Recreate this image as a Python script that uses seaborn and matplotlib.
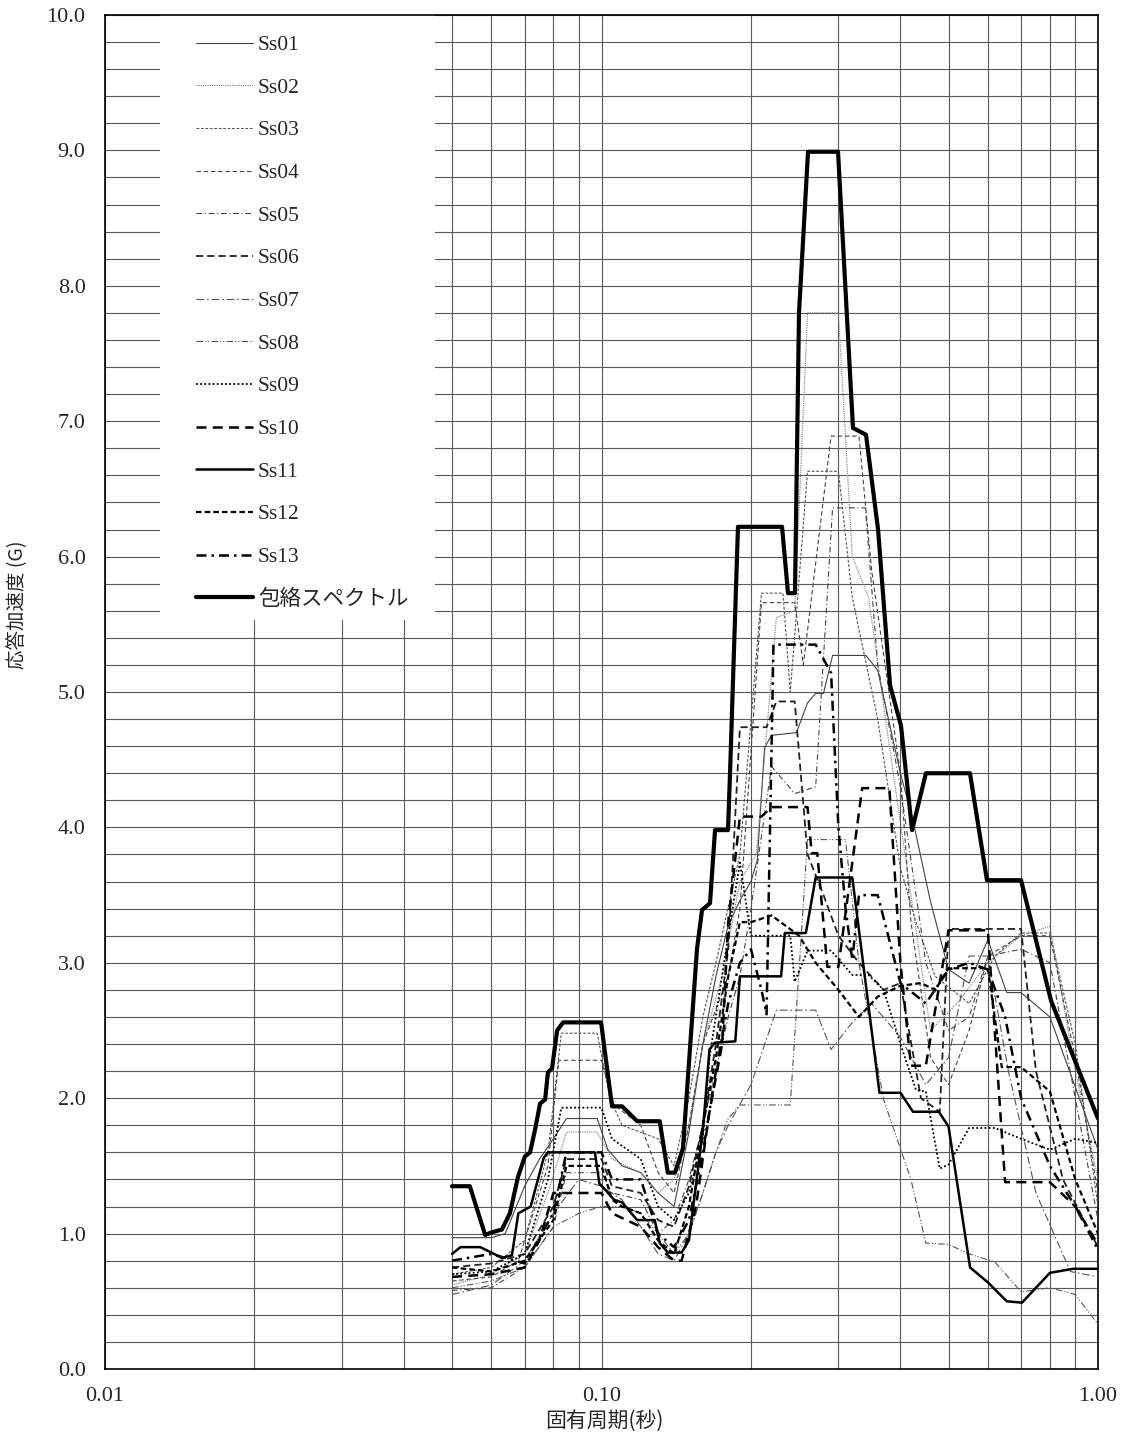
import numpy as np
import pandas as pd
import matplotlib
matplotlib.use("Agg")
import matplotlib.pyplot as plt
import seaborn as sns
from matplotlib.patches import Rectangle
from matplotlib.ticker import LogLocator, NullFormatter, FixedLocator

# ---------------- data (period [s], response acceleration [G]) ----------------
T01 = [0.05,0.06,0.064,0.07,0.075,0.08,0.085,0.098,0.103,0.11,0.12,0.13,0.14,0.15,0.16,0.17,0.18,0.19,0.20,0.206,0.213,0.22,0.247,0.26,0.27,0.28,0.292,0.341,0.36,0.40,0.424,0.46,0.50,0.55,0.60,0.655,0.70,0.80,1.0]
V01 = [0.97,0.97,1.00,1.35,1.55,1.70,1.85,1.85,1.62,1.50,1.45,1.30,1.20,1.75,2.40,2.90,3.28,3.46,3.60,3.76,4.59,4.68,4.70,4.92,4.99,4.99,5.27,5.27,5.16,4.40,4.05,3.45,2.95,2.85,3.17,2.78,2.78,2.60,1.62]

T02 = [0.05,0.06,0.07,0.078,0.085,0.098,0.105,0.12,0.13,0.14,0.15,0.16,0.175,0.19,0.205,0.225,0.245,0.26,0.30,0.32,0.345,0.38,0.42,0.46,0.52,0.6,0.7,0.8,0.9,1.0]
V02 = [0.62,0.70,0.85,1.30,1.75,1.75,1.55,1.45,1.30,1.40,1.80,2.40,2.90,3.60,3.80,5.55,5.60,7.80,7.80,6.00,5.70,4.60,3.50,2.50,2.70,3.00,3.20,3.27,2.20,1.40]

T03 = [0.05,0.06,0.07,0.078,0.083,0.098,0.104,0.11,0.13,0.14,0.15,0.16,0.17,0.19,0.21,0.232,0.24,0.26,0.30,0.32,0.36,0.40,0.43,0.47,0.55,0.62,0.70,0.80,0.90,1.0]
V03 = [0.70,0.75,0.95,1.60,2.48,2.48,2.00,1.80,1.70,1.50,2.00,2.60,3.00,3.80,5.73,5.73,5.00,6.63,6.63,5.70,4.80,3.70,3.30,2.90,2.70,3.05,3.22,3.22,2.40,1.20]

T04 = [0.05,0.06,0.068,0.078,0.082,0.10,0.106,0.12,0.13,0.14,0.15,0.16,0.18,0.19,0.21,0.245,0.255,0.29,0.33,0.35,0.40,0.42,0.46,0.50,0.55,0.6,0.7,0.8,0.9,1.0]
V04 = [0.65,0.68,0.80,1.50,2.28,2.28,1.95,1.80,1.45,1.30,1.80,2.40,2.90,3.40,5.66,5.66,5.20,6.89,6.89,5.90,4.40,3.30,2.30,2.10,2.50,3.05,3.20,3.20,2.30,1.30]

T05 = [0.05,0.06,0.07,0.08,0.085,0.10,0.105,0.12,0.13,0.14,0.15,0.16,0.18,0.19,0.20,0.22,0.245,0.27,0.292,0.34,0.36,0.40,0.45,0.50,0.55,0.60,0.70,0.80,0.90,1.0]
V05 = [0.58,0.60,0.75,1.05,1.45,1.45,1.30,1.25,1.00,1.10,1.40,1.80,2.60,2.90,3.40,4.45,4.25,4.30,6.36,6.36,5.20,4.30,3.00,2.50,2.60,3.05,3.10,3.00,2.00,1.10]

T06 = [0.05,0.06,0.07,0.08,0.085,0.10,0.105,0.12,0.13,0.14,0.15,0.16,0.17,0.18,0.19,0.215,0.225,0.245,0.26,0.28,0.30,0.33,0.37,0.40,0.44,0.48,0.50,0.60,0.70,0.75,0.85,1.0]
V06 = [0.75,0.78,0.85,1.20,1.55,1.55,1.35,1.30,1.10,1.05,1.35,1.80,2.40,3.10,4.74,4.74,4.93,4.93,3.80,3.50,3.20,3.00,2.80,2.85,2.00,1.90,3.25,3.25,3.25,2.20,1.40,0.90]

T07 = [0.05,0.06,0.07,0.08,0.09,0.10,0.11,0.12,0.13,0.14,0.15,0.16,0.17,0.18,0.20,0.225,0.27,0.29,0.32,0.35,0.40,0.45,0.50,0.55,0.60,0.66,0.75,0.88,1.0]
V07 = [0.55,0.62,0.80,1.15,1.40,1.35,1.25,1.05,0.85,0.80,1.00,1.30,1.60,1.80,2.10,2.65,2.65,2.36,2.56,2.70,2.45,2.10,2.30,3.05,3.05,2.20,1.30,0.72,0.68]

T08 = [0.05,0.06,0.07,0.08,0.09,0.10,0.11,0.12,0.13,0.14,0.15,0.16,0.17,0.18,0.19,0.24,0.26,0.31,0.33,0.37,0.42,0.45,0.50,0.55,0.62,0.70,0.80,0.90,1.0]
V08 = [0.60,0.65,0.75,1.05,1.15,1.20,1.20,1.15,1.00,0.85,1.00,1.30,1.60,1.85,1.95,1.95,3.91,3.91,3.00,1.99,1.40,0.93,0.92,0.85,0.79,0.57,0.60,0.55,0.33]

T09 = [0.05,0.06,0.07,0.078,0.083,0.10,0.105,0.12,0.13,0.14,0.15,0.16,0.165,0.18,0.19,0.20,0.24,0.245,0.26,0.29,0.32,0.345,0.37,0.40,0.43,0.45,0.48,0.50,0.55,0.62,0.70,0.80,0.90,1.0]
V09 = [0.70,0.72,0.85,1.40,1.93,1.93,1.70,1.55,1.20,1.10,1.30,1.70,2.30,3.20,3.74,3.20,3.20,2.86,3.09,3.09,2.91,2.91,2.80,2.40,2.06,2.05,1.48,1.51,1.78,1.78,1.70,1.62,1.70,1.67]

T10 = [0.05,0.06,0.07,0.075,0.08,0.10,0.105,0.12,0.13,0.14,0.145,0.155,0.165,0.175,0.18,0.19,0.21,0.22,0.26,0.265,0.272,0.285,0.30,0.335,0.38,0.40,0.42,0.45,0.50,0.60,0.65,0.70,0.80,0.90,1.0]
V10 = [0.68,0.70,0.75,0.95,1.30,1.30,1.15,1.05,0.90,0.80,0.80,1.20,1.90,2.40,3.30,4.08,4.08,4.15,4.15,3.81,3.81,2.97,2.97,4.29,4.29,3.00,2.24,2.24,3.24,3.24,1.38,1.38,1.38,1.20,0.92]

T11 = [0.05,0.052,0.057,0.060,0.063,0.066,0.068,0.072,0.0765,0.078,0.097,0.099,0.102,0.106,0.110,0.118,0.128,0.131,0.136,0.145,0.150,0.160,0.165,0.169,0.186,0.190,0.230,0.234,0.258,0.270,0.320,0.363,0.400,0.424,0.478,0.500,0.5525,0.600,0.655,0.703,0.800,0.890,1.0]
V11 = [0.85,0.90,0.90,0.86,0.82,0.84,1.15,1.20,1.56,1.60,1.60,1.37,1.32,1.25,1.23,1.10,1.10,0.93,0.86,0.86,0.95,1.76,2.36,2.41,2.42,2.90,2.90,3.22,3.22,3.63,3.63,2.04,2.04,1.90,1.90,1.79,0.75,0.64,0.50,0.49,0.71,0.74,0.74]

T12 = [0.05,0.06,0.07,0.08,0.085,0.10,0.105,0.11,0.12,0.13,0.14,0.15,0.16,0.17,0.18,0.19,0.20,0.22,0.25,0.27,0.30,0.33,0.36,0.40,0.44,0.47,0.50,0.60,0.64,0.70,0.80,0.90,1.0]
V12 = [0.75,0.72,0.80,1.10,1.50,1.50,1.25,1.20,1.15,0.95,0.85,1.20,1.80,2.30,2.90,3.30,3.30,3.35,3.20,3.00,2.80,2.60,2.75,2.83,2.85,2.80,2.96,2.96,2.23,2.23,2.05,1.40,1.00]

T13 = [0.05,0.06,0.07,0.08,0.085,0.10,0.105,0.12,0.13,0.14,0.15,0.16,0.17,0.18,0.19,0.20,0.21,0.215,0.222,0.27,0.29,0.30,0.31,0.32,0.33,0.36,0.40,0.45,0.50,0.55,0.60,0.65,0.70,0.80,0.90,1.0]
V13 = [0.80,0.85,0.78,1.15,1.60,1.60,1.40,1.40,1.00,0.90,1.10,1.60,2.20,2.70,3.00,3.10,2.80,2.62,5.35,5.35,5.14,4.00,3.41,3.02,3.50,3.50,2.85,2.70,2.95,3.00,2.95,2.60,2.00,1.50,1.20,0.88]

T_ENV = [0.05,0.0543,0.0583,0.0602,0.063,0.0654,0.0679,0.0701,0.0718,0.0735,0.0752,0.077,0.078,0.0795,0.0814,0.0837,0.0998,0.105,0.110,0.118,0.131,0.136,0.1406,0.1459,0.1557,0.1594,0.1654,0.1693,0.1798,0.1815,0.1883,0.231,0.2375,0.2453,0.2499,0.2606,0.2995,0.321,0.341,0.3606,0.3812,0.4011,0.4222,0.4502,0.5523,0.5975,0.6998,0.8043,1.0]
V_ENV = [1.35,1.35,0.99,1.01,1.03,1.15,1.42,1.57,1.60,1.77,1.96,1.99,2.19,2.22,2.50,2.56,2.56,1.94,1.94,1.83,1.83,1.45,1.45,1.63,3.10,3.39,3.44,3.98,3.98,4.40,6.22,6.22,5.73,5.73,7.80,8.99,8.99,6.95,6.90,6.20,5.05,4.75,3.98,4.40,4.40,3.61,3.61,2.72,1.85]

LABELS = ["Ss01","Ss02","Ss03","Ss04","Ss05","Ss06","Ss07","Ss08","Ss09","Ss10","Ss11","Ss12","Ss13","包絡スペクトル"]
X_TICKS = [0.01, 0.1, 1.0]
X_TICK_LABELS = ["0.01", "0.10", "1.00"]
Y_TICKS = [0,1,2,3,4,5,6,7,8,9,10]
Y_TICK_LABELS = ["0.0","1.0","2.0","3.0","4.0","5.0","6.0","7.0","8.0","9.0","10.0"]
X_LABEL = "固有周期(秒)"
Y_LABEL = "応答加速度 (G)"

# ---------------- styling ----------------
sns.set_theme(style="white")
plt.rcParams['font.family'] = ['Liberation Serif', 'Noto Sans CJK JP', 'DejaVu Sans']

styles = [
    ('-',                       0.8, '#444444'),  # Ss01
    ((0, (1.0, 1.0)),           0.8, '#777777'),  # Ss02
    ((0, (2.5, 1.5)),           0.8, '#555555'),  # Ss03
    ((0, (4.0, 2.5)),           0.8, '#444444'),  # Ss04
    ((0, (5, 2.5, 1, 2.5)),     0.8, '#444444'),  # Ss05
    ((0, (4.0, 2.2)),           1.3, '#222222'),  # Ss06
    ((0, (7, 2.5, 1.5, 2.5)),   0.8, '#555555'),  # Ss07
    ((0, (6, 2, 1, 1.5, 1, 2)), 0.8, '#555555'),  # Ss08
    ((0, (1.0, 1.3)),           1.3, '#000000'),  # Ss09
    ((0, (4.0, 2.5)),           1.8, '#000000'),  # Ss10
    ('-',                       1.8, '#000000'),  # Ss11
    ((0, (2.5, 1.4)),           1.6, '#000000'),  # Ss12
    ((0, (4.0, 2.0, 1.0, 2.0)), 1.8, '#000000'),  # Ss13
    ('-',                       3.0, '#000000'),  # envelope
]
series = [(T01,V01),(T02,V02),(T03,V03),(T04,V04),(T05,V05),(T06,V06),(T07,V07),
          (T08,V08),(T09,V09),(T10,V10),(T11,V11),(T12,V12),(T13,V13),(T_ENV,V_ENV)]

W, H = 1125, 1439
fig = plt.figure(figsize=(W/100, H/100), dpi=100)
ax = fig.add_axes([105/W, (H-1369)/H, 993/W, 1354/H])

handles = []
for (T, V), (ls, lw, col), lab in zip(series, styles, LABELS):
    df = pd.DataFrame({"period": T, "acc": V})
    sns.lineplot(data=df, x="period", y="acc", ax=ax, sort=False, estimator=None,
                 color=col, linewidth=lw, linestyle=ls, zorder=3)
    handles.append(ax.lines[-1])

ax.set_xscale('log')
ax.set_xlim(0.01, 1.0)
ax.set_ylim(0, 10)

ax.xaxis.set_major_locator(FixedLocator(X_TICKS))
ax.xaxis.set_minor_locator(LogLocator(base=10, subs=np.arange(2, 10) * 1.0, numticks=20))
ax.xaxis.set_minor_formatter(NullFormatter())
ax.set_xticklabels(X_TICK_LABELS)
ax.set_yticks(Y_TICKS)
ax.set_yticks(np.arange(0, 10.01, 0.2), minor=True)
ax.set_yticklabels(Y_TICK_LABELS)

ax.grid(True, which='both', color='#5a5a5a', linewidth=0.8, zorder=1)
ax.set_axisbelow(True)
ax.tick_params(which='both', length=0)
ax.tick_params(axis='y', pad=14, labelsize=16)
ax.tick_params(axis='x', pad=13, labelsize=16)
for sp in ax.spines.values():
    sp.set_color('black')
    sp.set_linewidth(1.2)
ax.set_xlabel("")
ax.set_ylabel("")

# white box behind the legend (hides the grid there)
x0 = (160 - 105) / 993
x1 = (435 - 105) / 993
y0 = (1369 - 620) / 1354
ax.add_patch(Rectangle((x0, y0), x1 - x0, 1 - y0, transform=ax.transAxes,
                       facecolor='white', edgecolor='none', zorder=2.5))

leg = ax.legend(handles, LABELS, loc='upper left',
                bbox_to_anchor=((196 - 105) / 993, (1369 - 35) / 1354),
                frameon=False, fontsize=15.5, handlelength=2.65, handletextpad=0.23,
                labelspacing=1.05, borderaxespad=0, borderpad=0)
leg.set_zorder(4)

fig.text(18 / W, 1 - 605 / H, Y_LABEL, rotation=90, ha='center', va='center',
         fontsize=14, family=['Noto Sans CJK JP', 'DejaVu Sans'])
fig.text(604 / W, 1 - 1421 / H, X_LABEL, ha='center', va='center',
         fontsize=15, family=['Noto Sans CJK JP', 'DejaVu Sans'])

fig.savefig("out.png", dpi=100, facecolor='white')
